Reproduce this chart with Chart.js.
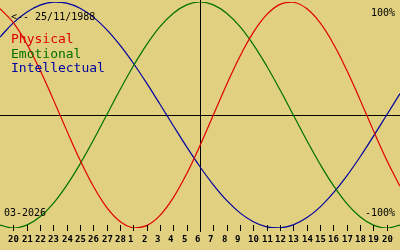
<!DOCTYPE html>
<html>
<head>
<meta charset="utf-8">
<script src="https://cdn.jsdelivr.net/npm/chart.js@4/dist/chart.umd.min.js"></script>
<style>
html,body{margin:0;padding:0;background:#e0d080;}
#c{display:block;}
</style>
</head>
<body>
<canvas id="c" width="400" height="250"></canvas>
<script>
// Day positions: -1 = 19 Feb ... 14 = 6 Mar (today) ... 29 = 21 Mar
const dayPositions = [-1,0,1,2,3,4,5,6,7,8,9,10,11,12,13,14,15,16,17,18,19,20,21,22,23,24,25,26,27,28,29];
const tickLabels = ["20","21","22","23","24","25","26","27","28","1","2","3","4","5","6","7","8","9","10","11","12","13","14","15","16","17","18","19","20"];
const todayPos = 14;
const physical = [0.942,0.817,0.631,0.398,0.136,-0.136,-0.398,-0.631,-0.817,-0.942,-0.998,-0.979,-0.888,-0.731,-0.520,-0.270,0,0.270,0.520,0.731,0.888,0.979,0.998,0.942,0.817,0.631,0.398,0.136,-0.136,-0.398,-0.631];
const emotional = [-0.975,-1,-0.975,-0.901,-0.782,-0.623,-0.434,-0.223,0,0.223,0.434,0.623,0.782,0.901,0.975,1,0.975,0.901,0.782,0.623,0.434,0.223,0,-0.223,-0.434,-0.623,-0.782,-0.901,-0.975,-1,-0.975];
const intellectual = [0.690,0.815,0.910,0.972,0.999,0.990,0.945,0.866,0.756,0.618,0.458,0.282,0.095,-0.095,-0.282,-0.458,-0.618,-0.756,-0.866,-0.945,-0.990,-0.999,-0.972,-0.910,-0.815,-0.690,-0.541,-0.372,-0.189,0,0.189];
const seriesNames = ["Physical","Emotional","Intellectual"];
const birthText = "<-- 25/11/1988";
const monthText = "03-2026";
const topText = "100%";
const bottomText = "-100%";

const colors = ["#e00000","#007000","#0000a0"];
const toPts = arr => arr.map((v,i)=>({x:dayPositions[i], y:v}));

const decor = {
  id:'decor',
  beforeDraw(chart){
    const c = chart.ctx;
    c.save();
    c.fillStyle = '#e0d080';
    c.fillRect(0,0,chart.width,chart.height);
    c.restore();
  },
  beforeDatasetsDraw(chart){
    const c = chart.ctx, x = chart.scales.x, y = chart.scales.y;
    c.save();
    c.strokeStyle = '#000';
    c.lineWidth = 1;
    const y0 = Math.round(y.getPixelForValue(0)) + 0.5;
    c.beginPath(); c.moveTo(0,y0); c.lineTo(chart.width,y0); c.stroke();
    const xt = Math.round(x.getPixelForValue(todayPos)) + 0.5;
    c.beginPath(); c.moveTo(xt,0); c.lineTo(xt,232); c.stroke();
    c.restore();
  },
  afterDraw(chart){
    const c = chart.ctx, x = chart.scales.x;
    c.save();
    c.strokeStyle = '#000';
    c.lineWidth = 1;
    c.fillStyle = '#000';
    c.font = 'bold 9px "DejaVu Sans Mono"';
    c.textAlign = 'left';
    c.textBaseline = 'alphabetic';
    tickLabels.forEach((lab,i)=>{
      const px = Math.round(x.getPixelForValue(i)) + 0.5;
      if (i !== todayPos) {
        c.beginPath(); c.moveTo(px,225); c.lineTo(px,231); c.stroke();
      }
      c.fillText(lab, px - 5.5, 242);
    });
    c.font = '10px "DejaVu Sans Mono"';
    c.fillText(birthText, 11, 20);
    c.fillText(monthText, 4, 216);
    c.textAlign = 'right';
    c.fillText(topText, 395, 16);
    c.fillText(bottomText, 395, 216);
    c.textAlign = 'left';
    c.font = '13px "DejaVu Sans Mono"';
    const baselines = [43, 57.5, 72];
    seriesNames.forEach((n,i)=>{
      c.fillStyle = colors[i];
      c.fillText(n, 11, baselines[i]);
    });
    c.restore();
  }
};

new Chart(document.getElementById('c'), {
  type:'line',
  data:{
    datasets:[
      {label:seriesNames[0], data:toPts(physical), borderColor:colors[0]},
      {label:seriesNames[1], data:toPts(emotional), borderColor:colors[1]},
      {label:seriesNames[2], data:toPts(intellectual), borderColor:colors[2]}
    ]
  },
  options:{
    responsive:false,
    animation:false,
    layout:{padding:{top:2,bottom:22,left:0,right:0}},
    elements:{point:{radius:0}, line:{borderWidth:1.2, tension:0.4, fill:false}},
    plugins:{legend:{display:false}, tooltip:{enabled:false}},
    scales:{
      x:{type:'linear', min:-1, max:29, display:false},
      y:{min:-1, max:1, display:false}
    }
  },
  plugins:[decor]
});
</script>
</body>
</html>
